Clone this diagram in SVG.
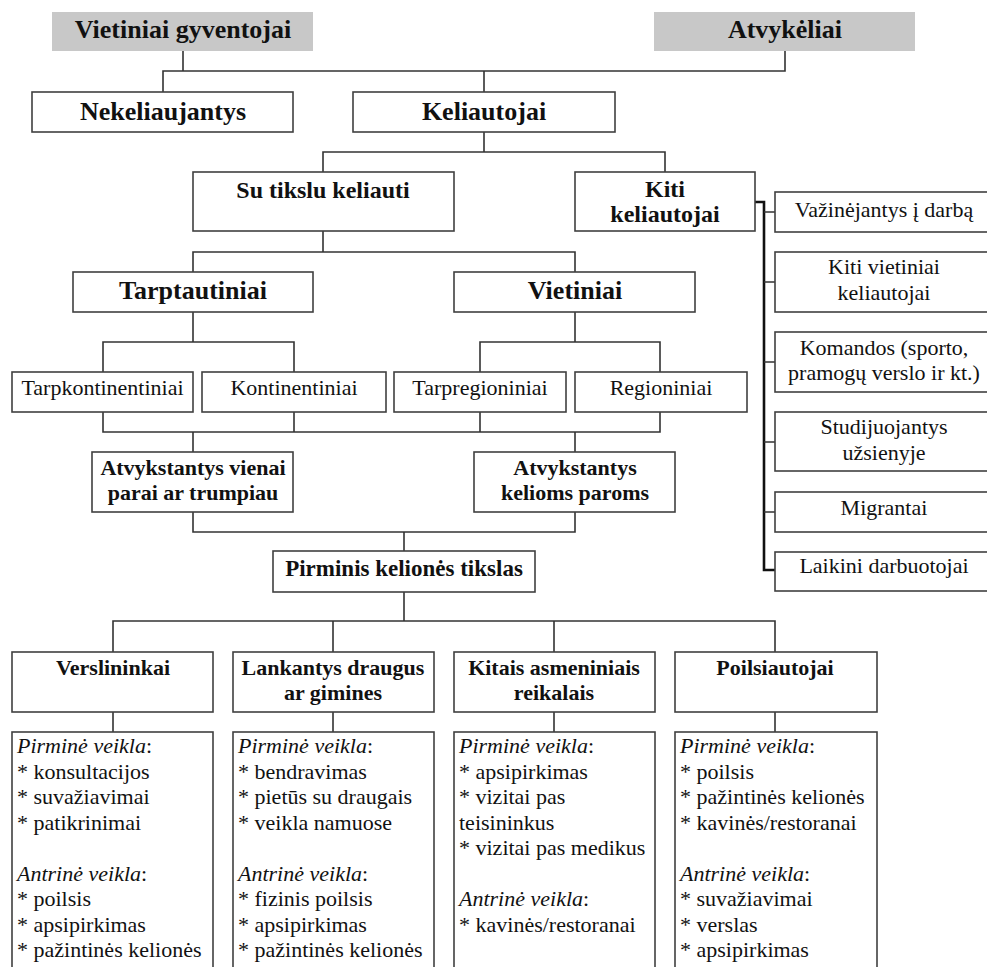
<svg xmlns="http://www.w3.org/2000/svg" width="987" height="967" viewBox="0 0 987 967">
  <style>
    .box { fill: #ffffff; stroke: #404040; stroke-width: 1.6; }
    .head { fill: #c8c8c8; stroke: none; }
    .t { font-family: 'Liberation Serif', 'Times New Roman', Tinos, 'DejaVu Serif', serif; fill: #111111; }
    .c { text-anchor: middle; }
    .b26 { font-size: 26px; font-weight: bold; }
    .b24 { font-size: 24px; font-weight: bold; }
    .b22 { font-size: 22px; font-weight: bold; }
    .r22 { font-size: 22px; }
    .i { font-style: italic; }
    .link { fill: none; stroke: #333333; stroke-width: 1.6; }
    .spine { fill: none; stroke: #111111; stroke-width: 2.6; }
  </style>
  <rect width="987" height="967" fill="#ffffff"/>

  <!-- connectors -->
  <g id="connectors">
    <path class="link" d="M183 51 V71 M163 92 V71 H785 V51 M484 71 V92"/>
    <path class="link" d="M484 132 V152 M323 172 V152 H665 V172"/>
    <path class="link" d="M323 231 V252 M193 272 V252 H575 V272"/>
    <path class="link" d="M193 312 V342 M103 372 V342 H294 V372"/>
    <path class="link" d="M575 312 V342 M480 372 V342 H660 V372"/>
    <path class="link" d="M103 412 V432 H660 V412 M294 412 V432 M480 412 V432 M193 432 V452 M575 432 V452"/>
    <path class="link" d="M193 512 V532 H575 V512 M404 532 V551"/>
    <path class="link" d="M404 592 V621 M113 652 V621 H775 V652 M333 621 V652 M554 621 V652"/>
    <path class="link" d="M113 712 V732 M333 712 V732 M554 712 V732 M775 712 V732"/>
    <path class="spine" d="M755 202 H764 V570 H775"/>
    <path class="link" d="M764 212 H775 M764 282 H775 M764 362 H775 M764 442 H775 M764 512 H775"/>
  </g>

  <!-- top level -->
  <g id="vietiniai-gyventojai">
    <rect class="head" x="52" y="12" width="261" height="39"/>
    <text class="t c b26" x="183" y="38">Vietiniai gyventojai</text>
  </g>
  <g id="atvykeliai">
    <rect class="head" x="654" y="12" width="261" height="39"/>
    <text class="t c b26" x="785" y="38">Atvykėliai</text>
  </g>

  <g id="nekeliaujantys">
    <rect class="box" x="32" y="92" width="261" height="40"/>
    <text class="t c b26" x="163" y="120">Nekeliaujantys</text>
  </g>
  <g id="keliautojai">
    <rect class="box" x="353" y="92" width="262" height="40"/>
    <text class="t c b26" x="484" y="120">Keliautojai</text>
  </g>

  <g id="su-tikslu">
    <rect class="box" x="193" y="172" width="261" height="59"/>
    <text class="t c b24" x="323" y="198">Su tikslu keliauti</text>
  </g>
  <g id="kiti-keliautojai">
    <rect class="box" x="575" y="172" width="180" height="59"/>
    <text class="t c b24" x="665" y="197">Kiti</text>
    <text class="t c b24" x="665" y="222">keliautojai</text>
  </g>

  <g id="tarptautiniai">
    <rect class="box" x="73" y="272" width="240" height="40"/>
    <text class="t c b26" x="193" y="299">Tarptautiniai</text>
  </g>
  <g id="vietiniai">
    <rect class="box" x="454" y="272" width="241" height="40"/>
    <text class="t c b26" x="575" y="299">Vietiniai</text>
  </g>

  <g id="tarpkontinentiniai">
    <rect class="box" x="12" y="372" width="181" height="40"/>
    <text class="t c r22" x="102.5" y="395">Tarpkontinentiniai</text>
  </g>
  <g id="kontinentiniai">
    <rect class="box" x="202" y="372" width="184" height="40"/>
    <text class="t c r22" x="294" y="395">Kontinentiniai</text>
  </g>
  <g id="tarpregioniniai">
    <rect class="box" x="394" y="372" width="172" height="40"/>
    <text class="t c r22" x="480" y="395">Tarpregioniniai</text>
  </g>
  <g id="regioniniai">
    <rect class="box" x="575" y="372" width="172" height="40"/>
    <text class="t c r22" x="661" y="395">Regioniniai</text>
  </g>

  <g id="vienai-parai">
    <rect class="box" x="92" y="452" width="201" height="60"/>
    <text class="t c b22" x="193" y="475">Atvykstantys vienai</text>
    <text class="t c b22" x="193" y="500">parai ar trumpiau</text>
  </g>
  <g id="kelioms-paroms">
    <rect class="box" x="474" y="452" width="201" height="60"/>
    <text class="t c b22" x="575" y="475">Atvykstantys</text>
    <text class="t c b22" x="575" y="500">kelioms paroms</text>
  </g>

  <g id="pirminis-tikslas">
    <rect class="box" x="273" y="551" width="262" height="41"/>
    <text class="t c b22" x="404" y="576" style="font-size:23px">Pirminis kelionės tikslas</text>
  </g>

  <!-- purpose groups -->
  <g id="verslininkai">
    <rect class="box" x="12" y="652" width="201" height="60"/>
    <text class="t c b22" x="113" y="675">Verslininkai</text>
  </g>
  <g id="lankantys">
    <rect class="box" x="233" y="652" width="201" height="60"/>
    <text class="t c b22" x="333" y="675">Lankantys draugus</text>
    <text class="t c b22" x="333" y="700">ar gimines</text>
  </g>
  <g id="kitais-reikalais">
    <rect class="box" x="454" y="652" width="201" height="60"/>
    <text class="t c b22" x="554" y="675">Kitais asmeniniais</text>
    <text class="t c b22" x="554" y="700">reikalais</text>
  </g>
  <g id="poilsiautojai">
    <rect class="box" x="675" y="652" width="202" height="60"/>
    <text class="t c b22" x="775" y="675">Poilsiautojai</text>
  </g>

  <!-- activity lists -->
  <g id="verslininkai-veikla">
    <rect class="box" x="12" y="732" width="201" height="260"/>
    <text class="t r22" x="17" y="753"><tspan class="i">Pirminė veikla</tspan>:</text>
    <text class="t r22" x="17" y="778.5">* konsultacijos</text>
    <text class="t r22" x="17" y="804">* suvažiavimai</text>
    <text class="t r22" x="17" y="829.5">* patikrinimai</text>
    <text class="t r22" x="17" y="880.5"><tspan class="i">Antrinė veikla</tspan>:</text>
    <text class="t r22" x="17" y="906">* poilsis</text>
    <text class="t r22" x="17" y="931.5">* apsipirkimas</text>
    <text class="t r22" x="17" y="957">* pažintinės kelionės</text>
  </g>
  <g id="lankantys-veikla">
    <rect class="box" x="233" y="732" width="201" height="260"/>
    <text class="t r22" x="238" y="753"><tspan class="i">Pirminė veikla</tspan>:</text>
    <text class="t r22" x="238" y="778.5">* bendravimas</text>
    <text class="t r22" x="238" y="804">* pietūs su draugais</text>
    <text class="t r22" x="238" y="829.5">* veikla namuose</text>
    <text class="t r22" x="238" y="880.5"><tspan class="i">Antrinė veikla</tspan>:</text>
    <text class="t r22" x="238" y="906">* fizinis poilsis</text>
    <text class="t r22" x="238" y="931.5">* apsipirkimas</text>
    <text class="t r22" x="238" y="957">* pažintinės kelionės</text>
  </g>
  <g id="kitais-veikla">
    <rect class="box" x="454" y="732" width="201" height="260"/>
    <text class="t r22" x="459" y="753"><tspan class="i">Pirminė veikla</tspan>:</text>
    <text class="t r22" x="459" y="778.5">* apsipirkimas</text>
    <text class="t r22" x="459" y="804">* vizitai pas</text>
    <text class="t r22" x="459" y="829.5">teisininkus</text>
    <text class="t r22" x="459" y="855">* vizitai pas medikus</text>
    <text class="t r22" x="459" y="906"><tspan class="i">Antrinė veikla</tspan>:</text>
    <text class="t r22" x="459" y="931.5">* kavinės/restoranai</text>
  </g>
  <g id="poilsiautojai-veikla">
    <rect class="box" x="675" y="732" width="202" height="260"/>
    <text class="t r22" x="680" y="753"><tspan class="i">Pirminė veikla</tspan>:</text>
    <text class="t r22" x="680" y="778.5">* poilsis</text>
    <text class="t r22" x="680" y="804">* pažintinės kelionės</text>
    <text class="t r22" x="680" y="829.5">* kavinės/restoranai</text>
    <text class="t r22" x="680" y="880.5"><tspan class="i">Antrinė veikla</tspan>:</text>
    <text class="t r22" x="680" y="906">* suvažiavimai</text>
    <text class="t r22" x="680" y="931.5">* verslas</text>
    <text class="t r22" x="680" y="957">* apsipirkimas</text>
  </g>

  <!-- other travellers -->
  <g id="vazinejantys">
    <rect class="box" x="775" y="192" width="220" height="40"/>
    <text class="t c r22" x="884" y="217">Važinėjantys į darbą</text>
  </g>
  <g id="kiti-vietiniai">
    <rect class="box" x="775" y="252" width="220" height="60"/>
    <text class="t c r22" x="884" y="274">Kiti vietiniai</text>
    <text class="t c r22" x="884" y="300">keliautojai</text>
  </g>
  <g id="komandos">
    <rect class="box" x="775" y="332" width="220" height="60"/>
    <text class="t c r22" x="884" y="355">Komandos (sporto,</text>
    <text class="t c r22" x="884" y="380">pramogų verslo ir kt.)</text>
  </g>
  <g id="studijuojantys">
    <rect class="box" x="775" y="412" width="220" height="59"/>
    <text class="t c r22" x="884" y="434">Studijuojantys</text>
    <text class="t c r22" x="884" y="460">užsienyje</text>
  </g>
  <g id="migrantai">
    <rect class="box" x="775" y="492" width="220" height="40"/>
    <text class="t c r22" x="884" y="515">Migrantai</text>
  </g>
  <g id="laikini">
    <rect class="box" x="775" y="552" width="220" height="39"/>
    <text class="t c r22" x="884" y="573">Laikini darbuotojai</text>
  </g>
</svg>
